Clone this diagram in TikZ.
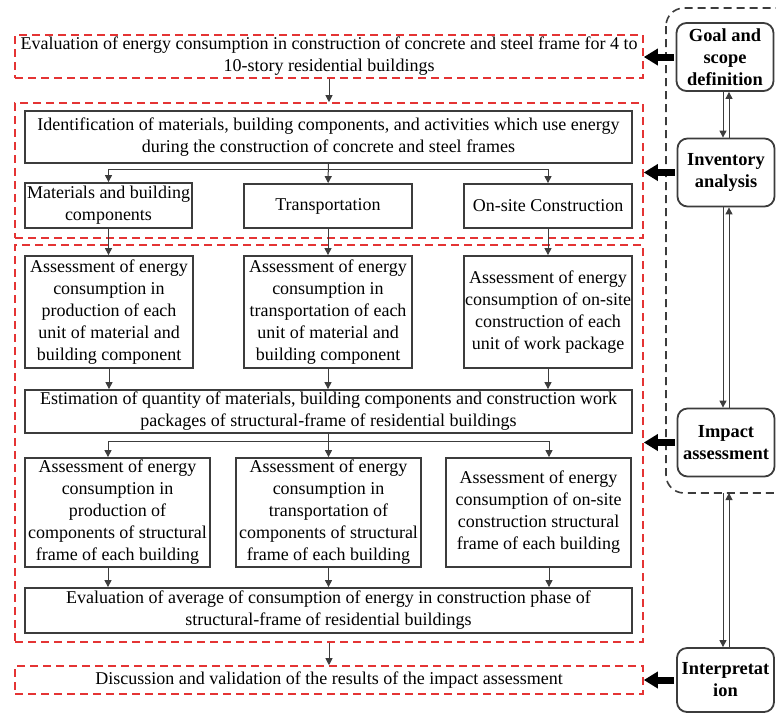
\documentclass[tikz,border=0pt]{standalone}
\usepackage{fontspec}
\setmainfont{Liberation Serif}
\usetikzlibrary{arrows.meta}

\definecolor{dashred}{RGB}{228,52,52}
\definecolor{linegray}{RGB}{60,60,60}

\tikzset{
    stepbox/.style={draw=linegray, line width=0.9pt, inner sep=0pt, align=center,
        font=\fontsize{9}{11}\selectfont},
    redgroup/.style={draw=dashred, line width=0.8pt, dash pattern=on 4pt off 2.5pt,
        inner sep=0pt, align=center, font=\fontsize{9}{11}\selectfont},
    phasebox/.style={draw=linegray, line width=0.9pt, rounded corners=5pt, inner sep=0pt,
        align=center, minimum width=48.5pt, minimum height=34pt,
        font=\fontsize{9.2}{11}\selectfont\bfseries},
    flow/.style={draw=linegray, line width=0.5pt, ->},
    bigarrow/.style={draw=black, line width=3.5pt, -{Triangle[length=7pt,width=8pt]}},
    >={Triangle[length=3.5pt,width=3.5pt]}
}

\begin{document}
\begin{tikzpicture}[x=0.5pt, y=-0.5pt]

    % Fix the page to the size of the reference
    \useasboundingbox (0,0) rectangle (776,714);

    % LCA frame round the first three phases
    \draw[linegray, line width=0.8pt, dash pattern=on 4pt off 2.5pt, rounded corners=9pt]
        (666,8) rectangle (800,493);

    % Goal and scope
    \node[redgroup, minimum width=314pt, minimum height=21.5pt] (evalgoal) at (329,56.5)
        {Evaluation of energy consumption in construction of concrete and steel frame for 4 to\\
         10-story residential buildings};

    % Inventory group
    \node[redgroup, minimum width=314pt, minimum height=67.5pt] (grp1) at (329,170.5) {};
    \node[stepbox, minimum width=303.5pt, minimum height=26pt] (ident) at (328.5,137)
        {Identification of materials, building components, and activities which use energy\\
         during the construction of concrete and steel frames};
    \node[stepbox, minimum width=83.5pt, minimum height=22.5pt] (mat) at (108.5,205.5)
        {Materials and building\\ components};
    \node[stepbox, minimum width=84pt, minimum height=22pt] (transp) at (328,206) {Transportation};
    \node[stepbox, minimum width=84pt, minimum height=22pt] (onsite) at (548,206) {On-site Construction};

    % Impact group
    \node[redgroup, minimum width=314pt, minimum height=198.5pt] (grp2) at (329,443.5) {};
    \node[stepbox, minimum width=84pt, minimum height=56pt] (produnit) at (109,312)
        {Assessment of energy\\ consumption in\\ production of each\\ unit of material and\\ building component};
    \node[stepbox, minimum width=84pt, minimum height=56pt] (trunit) at (328,312)
        {Assessment of energy\\ consumption in\\ transportation of each\\ unit of material and\\ building component};
    \node[stepbox, minimum width=84pt, minimum height=56pt] (siteunit) at (548,312)
        {Assessment of energy\\ consumption of on-site\\ construction of each\\ unit of work package};
    \node[stepbox, minimum width=303.5pt, minimum height=21.5pt] (estim) at (328.5,411.5)
        {Estimation of quantity of materials, building components and construction work\\
         packages of structural-frame of residential buildings};
    \node[stepbox, minimum width=92.5pt, minimum height=54.5pt] (prodbld) at (117.5,512.5)
        {Assessment of energy\\ consumption in\\ production of\\ components of structural\\ frame of each building};
    \node[stepbox, minimum width=92.5pt, minimum height=54.5pt] (trbld) at (328.5,512.5)
        {Assessment of energy\\ consumption in\\ transportation of\\ components of structural\\ frame of each building};
    \node[stepbox, minimum width=92.5pt, minimum height=54.5pt] (sitebld) at (538.5,512.5)
        {Assessment of energy\\ consumption of on-site\\ construction structural\\ frame of each building};
    \node[stepbox, minimum width=303.5pt, minimum height=22.5pt] (evalavg) at (328.5,610.5)
        {Evaluation of average of consumption of energy in construction phase of\\
         structural-frame of residential buildings};

    % Interpretation
    \node[redgroup, minimum width=314pt, minimum height=14pt] (disc) at (329,680)
        {Discussion and validation of the results of the impact assessment};

    % LCA phases
    \node[phasebox] (goal) at (725,57) {Goal and\\ scope\\ definition};
    \node[phasebox] (invent) at (726,172.5) {Inventory\\ analysis};
    \node[phasebox] (impact) at (726,442.5) {Impact\\ assessment};
    \node[phasebox, minimum height=32pt] (interp) at (725.5,680) {Interpretat\\ ion};

    % Branch points
    \coordinate (split1) at (328,169);
    \coordinate (split2L) at (108,441);
    \coordinate (split2R) at (549,441);
    \coordinate (lnL) at (723,0);
    \coordinate (lnR) at (729,0);

    % Main flow
    \draw[flow] (evalgoal) -- (grp1);
    \draw[flow] (ident) -- (transp);
    \draw[flow] (split1) -| (mat);
    \draw[flow] (split1) -| (onsite);
    \draw[flow] (mat.south) -- (mat.south |- produnit.north);
    \draw[flow] (transp.south) -- (transp.south |- trunit.north);
    \draw[flow] (onsite.south) -- (onsite.south |- siteunit.north);
    \draw[flow] (produnit.south) -- (produnit.south |- estim.north);
    \draw[flow] (trunit.south) -- (trunit.south |- estim.north);
    \draw[flow] (siteunit.south) -- (siteunit.south |- estim.north);
    \draw[linegray, line width=0.5pt] (split2L) -- (split2R);
    \draw[flow] (split2L) -- (split2L |- prodbld.north);
    \draw[flow] (estim.south) -- (estim.south |- trbld.north);
    \draw[flow] (split2R) -- (split2R |- sitebld.north);
    \draw[flow] (split2L |- prodbld.south) -- (split2L |- evalavg.north);
    \draw[flow] (trbld.south) -- (trbld.south |- evalavg.north);
    \draw[flow] (split2R |- sitebld.south) -- (split2R |- evalavg.north);
    \draw[flow] (grp2) -- (disc);

    % Two-way links between the phases
    \draw[flow] (lnL |- goal.south) -- (lnL |- invent.north);
    \draw[flow] (lnR |- invent.north) -- (lnR |- goal.south);
    \draw[flow] (lnL |- invent.south) -- (lnL |- impact.north);
    \draw[flow] (lnR |- impact.north) -- (lnR |- invent.south);
    \draw[flow] (lnL |- 0,493) -- (lnL |- interp.north);
    \draw[flow] (lnR |- interp.north) -- (lnR |- 0,493);

    % Thick arrows from the phases to the steps
    \draw[bigarrow] ([xshift=-1pt]goal.west) -- (goal.west -| evalgoal.east);
    \draw[bigarrow] ([xshift=-1pt]invent.west) -- (invent.west -| grp1.east);
    \draw[bigarrow] ([xshift=-1pt]impact.west) -- (impact.west -| grp2.east);
    \draw[bigarrow] ([xshift=-1pt]interp.west) -- (interp.west -| disc.east);

\end{tikzpicture}
\end{document}
